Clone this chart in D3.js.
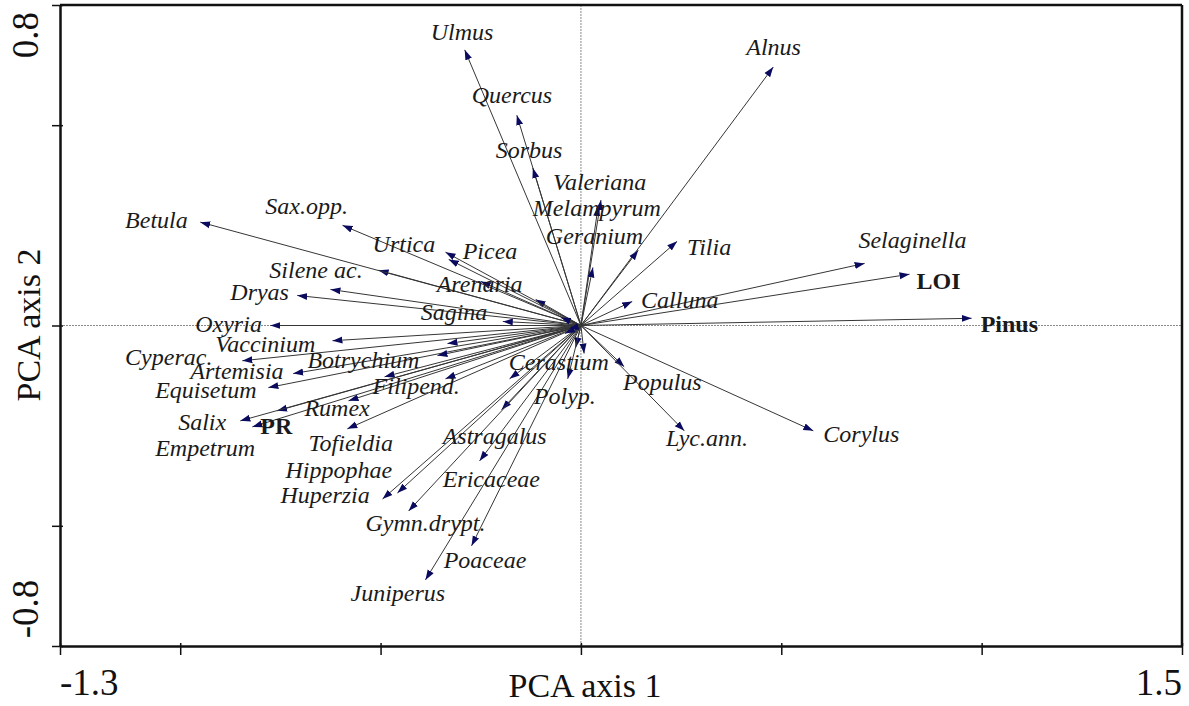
<!DOCTYPE html>
<html>
<head>
<meta charset="utf-8">
<script src="https://cdn.jsdelivr.net/npm/d3@7"></script>
<style>
  body { margin: 0; background: #fff; }
  svg { display: block; }
</style>
</head>
<body>
<script>
// PCA biplot: taxon loadings on axis 1 and 2, arrows drawn from the origin

var taxa = ["Ulmus", "Quercus", "Sorbus", "Valeriana", "Melampyrum", "", "Alnus", "Geranium",
            "Tilia", "Calluna", "Selaginella", "LOI", "Pinus", "Populus", "Lyc.ann.", "Corylus",
            "", "", "Polyp.", "Cerastium", "Astragalus", "Ericaceae", "Poaceae", "Juniperus",
            "Gymn.drypt.", "Hippophae", "Huperzia", "Tofieldia", "Rumex", "Filipend.", "",
            "Empetrum", "Salix", "PR", "Equisetum", "Artemisia", "Cyperac.", "Botrychium", "",
            "Vaccinium", "Oxyria", "Sagina", "Dryas", "", "Silene ac.", "Arenaria", "",
            "Picea", "Urtica", "Sax.opp.", "Betula", "", "", ""];

// axis 1 loadings
var axis1 = [-0.29, -0.16, -0.12, 0.05, 0.043, 0.03, 0.48, 0.143,
             0.24, 0.128, 0.708, 0.82, 0.975, 0.108, 0.258, 0.58,
             0.008, -0.013, -0.033, -0.178, -0.198, -0.253, -0.273, -0.388,
             -0.43, -0.458, -0.495, -0.583, -0.58, -0.49, -0.338,
             -0.758, -0.85, -0.82, -0.78, -0.718, -0.845, -0.358, -0.333,
             -0.62, -0.775, -0.195, -0.708, -0.625, -0.505, -0.25, -0.113,
             -0.33, -0.338, -0.595, -0.95, -0.05, -0.04, -0.03];

// axis 2 loadings
var axis2 = [0.688, 0.525, 0.393, 0.313, 0.298, 0.145, 0.645, 0.188,
             0.21, 0.06, 0.155, 0.128, 0.018, -0.103, -0.263, -0.263,
             -0.07, -0.055, -0.133, -0.133, -0.21, -0.338, -0.55, -0.635,
             -0.463, -0.418, -0.433, -0.258, -0.188, -0.128, -0.133,
             -0.213, -0.238, -0.253, -0.155, -0.12, -0.088, -0.075, -0.045,
             -0.038, 0, 0.01, 0.075, 0.09, 0.138, 0.11, 0.065,
             0.165, 0.183, 0.25, 0.258, 0.02, -0.02, -0.01];

// where each label sits (left end / baseline), in axis units
var labelX = [-0.375, -0.2725, -0.2125, -0.07, -0.12, 0, 0.4125, -0.0875,
              0.265, 0.15, 0.6925, 0.8375, 0.9975, 0.105, 0.2125, 0.605,
              0, 0, -0.1175, -0.18, -0.345, -0.345, -0.3425, -0.575,
              -0.5375, -0.7375, -0.75, -0.68, -0.69, -0.52, 0,
              -1.0625, -1.005, -0.8, -1.0625, -0.975, -1.1375, -0.6825, 0,
              -0.9125, -0.9625, -0.4, -0.875, 0, -0.7775, -0.36, 0,
              -0.295, -0.52, -0.7875, -1.1375, 0, 0, 0];
var labelY = [0.7125, 0.555, 0.4175, 0.3375, 0.2725, 0, 0.675, 0.2025,
              0.175, 0.0425, 0.1925, 0.09, -0.015, -0.16, -0.3, -0.29,
              0, 0, -0.195, -0.11, -0.295, -0.4025, -0.605, -0.6875,
              -0.5125, -0.38, -0.4425, -0.3125, -0.225, -0.17, 0,
              -0.325, -0.26, -0.27, -0.18, -0.1325, -0.0975, -0.105, 0,
              -0.067, -0.015, 0.0125, 0.0625, 0, 0.1175, 0.0825, 0,
              0.165, 0.1825, 0.2775, 0.2425, 0, 0, 0];

// environmental variables are printed in bold
var envVars = ["LOI", "Pinus", "PR"];

var xTicks = [-1.3, -1, -0.5, 0, 0.5, 1, 1.5];
var yTicks = [-0.8, -0.5, 0, 0.5, 0.8];
var xLabels = ["-1.3", "1.5"];
var yLabels = ["-0.8", "0.8"];

var w = 1189, h = 706;

var x = d3.scaleLinear().domain([-1.3, 1.5]).range([60, 1182]);
var y = d3.scaleLinear().domain([-0.8, 0.8]).range([646, 5]);

var svg = d3.select("body").append("svg")
    .attr("width", w)
    .attr("height", h);

svg.append("defs").append("marker")
    .attr("id", "head")
    .attr("markerUnits", "userSpaceOnUse")
    .attr("viewBox", "0 -4 10 8")
    .attr("markerWidth", 10)
    .attr("markerHeight", 8)
    .attr("refX", 10)
    .attr("refY", 0)
    .attr("orient", "auto")
  .append("path")
    .attr("d", "M0,-3.5L10,0L0,3.5Z")
    .attr("fill", "#0a0a5e");

// zero lines
svg.append("line")
    .attr("x1", x(0)).attr("x2", x(0))
    .attr("y1", y(0.8)).attr("y2", y(-0.8))
    .attr("stroke", "#8a8a8a").attr("stroke-width", 1)
    .attr("stroke-dasharray", "2,1");
svg.append("line")
    .attr("x1", x(-1.3)).attr("x2", x(1.5))
    .attr("y1", y(0)).attr("y2", y(0))
    .attr("stroke", "#8a8a8a").attr("stroke-width", 1)
    .attr("stroke-dasharray", "2,1");

var data = taxa.map(function(t, i) {
  return { name: t, x: axis1[i], y: axis2[i], lx: labelX[i], ly: labelY[i] };
});

svg.append("g").selectAll("line")
    .data(data)
    .enter()
    .append("line")
    .attr("x1", x(0))
    .attr("y1", y(0))
    .attr("x2", function(d) { return x(d.x); })
    .attr("y2", function(d) { return y(d.y); })
    .attr("stroke", "#363636")
    .attr("stroke-width", 1)
    .attr("marker-end", "url(#head)");

svg.append("g").selectAll("text")
    .data(data.filter(function(d) { return d.name !== ""; }))
    .enter()
    .append("text")
    .attr("x", function(d) { return x(d.lx); })
    .attr("y", function(d) { return y(d.ly); })
    .attr("font-family", "Liberation Serif, Times New Roman, serif")
    .attr("font-size", 24)
    .attr("font-style", function(d) { return envVars.indexOf(d.name) >= 0 ? "normal" : "italic"; })
    .attr("font-weight", function(d) { return envVars.indexOf(d.name) >= 0 ? "bold" : "normal"; })
    .attr("fill", "#1a1a1a")
    .text(function(d) { return d.name; });

// frame + axes
var xAxis = svg.append("g")
    .attr("transform", "translate(0," + y(-0.8) + ")")
    .call(d3.axisBottom(x).tickValues(xTicks).tickFormat("").tickSize(9).tickSizeOuter(0));
xAxis.selectAll(".tick line").attr("y1", -3).attr("stroke-width", 1.5);

var yAxis = svg.append("g")
    .attr("transform", "translate(" + x(-1.3) + ",0)")
    .call(d3.axisLeft(y).tickValues(yTicks).tickFormat("").tickSize(8).tickSizeOuter(0));
yAxis.selectAll(".tick line").attr("x1", 3).attr("stroke-width", 1.5);

[xAxis, yAxis].forEach(function(a) {
  a.select(".domain").attr("stroke", "#111").attr("stroke-width", 2.5);
  a.selectAll(".tick line").attr("stroke", "#111");
});

svg.append("line")
    .attr("x1", x(-1.3)).attr("x2", x(1.5))
    .attr("y1", y(0.8)).attr("y2", y(0.8))
    .attr("stroke", "#111").attr("stroke-width", 2.5);
svg.append("line")
    .attr("x1", x(1.5)).attr("x2", x(1.5))
    .attr("y1", y(0.8)).attr("y2", y(-0.8))
    .attr("stroke", "#111").attr("stroke-width", 2.5);

var axisFont = "Liberation Serif, Times New Roman, serif";

// end labels only
svg.append("text")
    .attr("x", x(-1.3)).attr("y", 695)
    .attr("font-family", axisFont).attr("font-size", 37).attr("fill", "#111")
    .text(xLabels[0]);
svg.append("text")
    .attr("x", x(1.5)).attr("y", 695)
    .attr("text-anchor", "end")
    .attr("font-family", axisFont).attr("font-size", 37).attr("fill", "#111")
    .text(xLabels[1]);

svg.append("text")
    .attr("transform", "translate(38,609) rotate(-90)")
    .attr("text-anchor", "middle")
    .attr("font-family", axisFont).attr("font-size", 37).attr("fill", "#111")
    .text(yLabels[0]);
svg.append("text")
    .attr("transform", "translate(38,35) rotate(-90)")
    .attr("text-anchor", "middle")
    .attr("font-family", axisFont).attr("font-size", 37).attr("fill", "#111")
    .text(yLabels[1]);

svg.append("text")
    .attr("x", 585).attr("y", 697)
    .attr("text-anchor", "middle")
    .attr("font-family", axisFont).attr("font-size", 34).attr("fill", "#111")
    .text("PCA axis 1");

svg.append("text")
    .attr("transform", "translate(40,325) rotate(-90)")
    .attr("text-anchor", "middle")
    .attr("font-family", axisFont).attr("font-size", 34).attr("fill", "#111")
    .text("PCA axis 2");
</script>
</body>
</html>
